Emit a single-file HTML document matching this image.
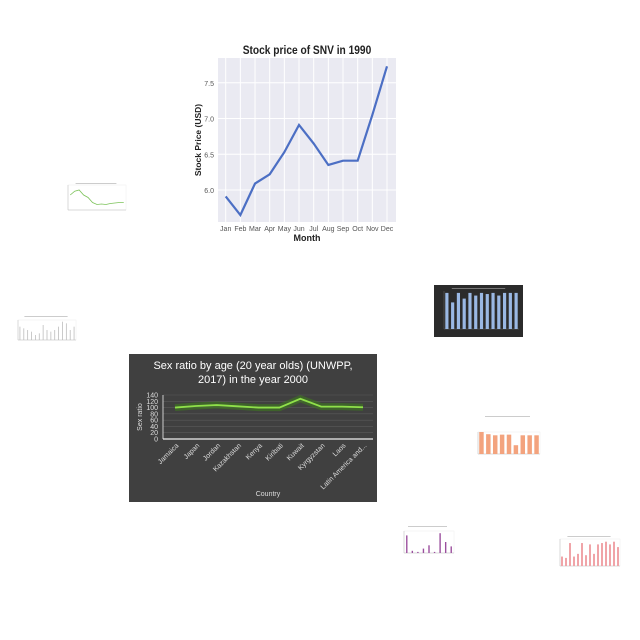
<!DOCTYPE html>
<html><head><meta charset="utf-8"><style>
body{margin:0;background:#fff;width:640px;height:640px;overflow:hidden;font-family:"Liberation Sans",sans-serif}
svg{position:absolute;left:0;top:0}
</style></head><body>
<svg id="s" width="640" height="640"></svg>
<script>
const months=["Jan","Feb","Mar","Apr","May","Jun","Jul","Aug","Sep","Oct","Nov","Dec"];
const prices=[5.91,5.65,6.09,6.22,6.53,6.91,6.65,6.35,6.41,6.41,7.05,7.73];
const priceTicks=[6.0,6.5,7.0,7.5];
const countries=["Jamaica","Japan","Jordan","Kazakhstan","Kenya","Kiribati","Kuwait","Kyrgyzstan","Laos","Latin America and..."];
const sexRatio=[100,105,108,104,100,100,128,103,103,101];
const sexTicks=[0,20,40,60,80,100,120,140];
const thumbGreen=[60,75,80,60,50,30,22,24,22,26,28,30,30];
const thumbGrey=[40,35,30,25,15,20,45,30,25,30,40,55,50,30,40];
const thumbBlue=[95,70,95,80,95,88,95,92,95,88,95,95,95];
const thumbOrange=[100,90,85,88,88,40,85,85,85];
const thumbPurple=[80,10,5,20,35,5,90,50,30];
const thumbPink=[35,30,85,35,45,85,40,80,45,80,85,90,80,90,70];
const NS="http://www.w3.org/2000/svg",S=document.getElementById('s');
function el(t,a,p){const e=document.createElementNS(NS,t);for(const k in a)e.setAttribute(k,a[k]);(p||S).appendChild(e);return e;}
function txt(x,y,s,a,p){const e=el('text',Object.assign({x:x,y:y},a),p);e.textContent=s;return e;}

// ---- Stock chart ----
const g1=el('g',{});
const sx=i=>225.7+i*(387-225.7)/11, sy=v=>190-(v-6)*71.5;
const bg=el('rect',{x:218,y:58,width:178,height:164,fill:'#eaeaf2'},g1);
priceTicks.forEach(v=>{el('line',{x1:218,x2:396,y1:sy(v),y2:sy(v),stroke:'#fff','stroke-width':1},g1);
 const t=txt(214,sy(v)+3,v.toFixed(1),{'font-size':7,fill:'#555','text-anchor':'end'},g1);});
months.forEach((m,i)=>{el('line',{x1:sx(i),x2:sx(i),y1:58,y2:222,stroke:'#fff','stroke-width':1},g1);
 const t=txt(sx(i),231,m,{'font-size':7,fill:'#555','text-anchor':'middle'},g1);});
const ln=el('polyline',{points:prices.map((v,i)=>sx(i)+','+sy(v)).join(' '),fill:'none',stroke:'#4c6fc4','stroke-width':2.2},g1);

let t=txt(307,54,'Stock price of SNV in 1990',{'font-size':12,'font-weight':'bold','text-anchor':'middle',fill:'#222',transform:'translate(307 0) scale(0.85 1) translate(-307 0)'},g1);
t=txt(307,241,'Month',{'font-size':9,'font-weight':'bold','text-anchor':'middle',fill:'#222'},g1);
t=txt(0,0,'Stock Price (USD)',{'font-size':8.5,'font-weight':'bold','text-anchor':'middle',fill:'#222',transform:'translate(201 140) rotate(-90)'},g1);

// ---- Sex ratio chart ----
const g2=el('g',{});
el('rect',{x:129,y:354,width:248,height:148,fill:'#404040'},g2);
const cx=i=>175+i*(363-175)/9, cy=v=>439-v*(44/140);
sexTicks.forEach(v=>{el('line',{x1:163,x2:373,y1:cy(v),y2:cy(v),stroke:'#5a5a5a','stroke-width':0.6},g2);
 const q=txt(158,cy(v)+2.5,v,{'font-size':7,fill:'#ddd','text-anchor':'end'},g2);});
el('line',{x1:163,x2:373,y1:439,y2:439,stroke:'#eee','stroke-width':1.2},g2);
el('line',{x1:163,x2:163,y1:395,y2:439,stroke:'#eee','stroke-width':0.8},g2);
const pts=sexRatio.map((v,i)=>cx(i)+','+cy(v)).join(' ');
el('polyline',{points:pts,fill:'none',stroke:'#3d7a1e','stroke-width':7,'stroke-opacity':0.6},g2);
const l2=el('polyline',{points:pts,fill:'none',stroke:'#8fe04a','stroke-width':1.8},g2);
countries.forEach((c,i)=>{const q=txt(0,0,c,{'font-size':7,fill:'#ddd','text-anchor':'end',transform:`translate(${cx(i)+4} 446) rotate(-45)`},g2);});
t=txt(253,369,'Sex ratio by age (20 year olds) (UNWPP,',{'font-size':11,fill:'#fff','text-anchor':'middle'},g2);
txt(253,383,'2017) in the year 2000',{'font-size':11,fill:'#fff','text-anchor':'middle'},g2);
t=txt(268,496,'Country',{'font-size':7,fill:'#ddd','text-anchor':'middle'},g2);
t=txt(0,0,'Sex ratio',{'font-size':7,fill:'#ddd','text-anchor':'middle',transform:'translate(142 417) rotate(-90)'},g2);

// ---- thumbnails ----
function thumb(name,x,y,w,h,px,py,pw,ph,data,max,color,type,bgc,bw){
 const g=el('g',{});
 if(bgc)el('rect',{x:x,y:y,width:w,height:h,fill:bgc},g);
 el('rect',{x:x+w*0.2,y:y+3,width:w*0.6,height:1,fill:bgc?'#777':'#ccc'},g);
 if(!bgc)el('rect',{x:px,y:py,width:pw,height:ph,fill:'none',stroke:'#eee','stroke-width':0.5},g);
 el('line',{x1:px,x2:px,y1:py,y2:py+ph,stroke:bgc?'#666':'#bbb','stroke-width':0.5},g);
 el('line',{x1:px,x2:px+pw,y1:py+ph,y2:py+ph,stroke:bgc?'#666':'#bbb','stroke-width':0.5},g);
 const n=data.length,st=pw/n;
 if(type==='line'){el('polyline',{points:data.map((v,i)=>(px+st*(i+0.5))+','+(py+ph-v/max*ph)).join(' '),fill:'none',stroke:color,'stroke-width':0.8},g);}
 else data.forEach((v,i)=>{const b=el('rect',{x:px+st*i+st*(1-bw)/2,y:py+ph-v/max*ph,width:st*bw,height:v/max*ph,fill:color},g);});
}
thumb('thumb-green-line',62,180,68,48,68,185,58,25,thumbGreen,100,'#7cc35a','line');
thumb('thumb-grey-bars',10,313,72,40,18,320,58,20,thumbGrey,60,'#bbb','bar',null,0.2);
thumb('thumb-blue-bars',434,285,89,52,444,291,75,38,thumbBlue,100,'#9ab8e4','bar','#2b2b2b',0.55);
thumb('thumb-orange-bars',470,413,75,70,478,432,62,22,thumbOrange,100,'#f3a37e','bar',null,0.65);
thumb('thumb-purple-bars',395,523,65,33,404,531,50,22,thumbPurple,100,'#9b4f9e','bar',null,0.25);
thumb('thumb-pink-bars',553,533,72,37,560,539,60,27,thumbPink,100,'#f0a4a8','bar',null,0.5);
</script>
</body></html>
